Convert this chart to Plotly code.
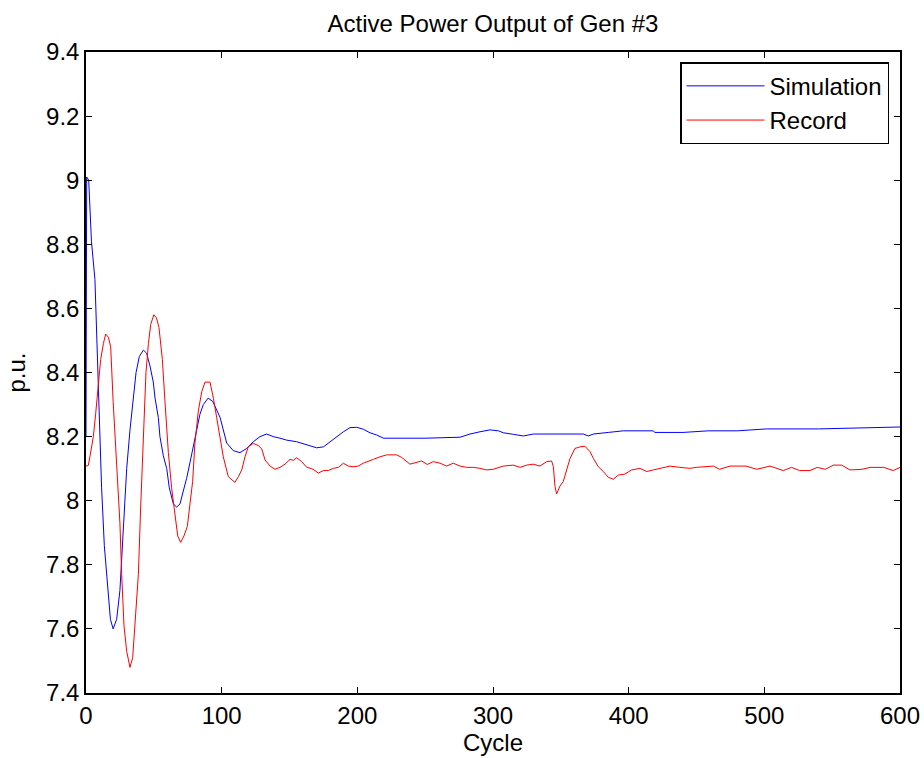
import plotly.graph_objects as go

# Simulation (blue)
sim_cycle = [0, 0.5, 2, 4, 6.6, 8, 9.6, 11.5, 13.5, 16.5, 18, 20, 22.6, 25, 27.5, 30, 32.4, 34.9,
             36.9, 39.3, 42.3, 44.7, 47.2, 49.6, 50.9, 53.3, 54.5, 57, 59.5, 61.4, 64.4, 66.8,
             69.3, 71.7, 74.2, 76.7, 79, 81.6, 84, 86.5, 90, 93.4, 96.3, 98.8, 103.7, 108.6,
             113.5, 118.4, 123.3, 128.3, 133.2, 138, 143, 147.9, 155.3, 162.7, 170, 175,
             179.9, 184.8, 189.7, 194.6, 199.5, 204.4, 209.3, 214.3, 219.2, 230, 250, 275.7,
             283, 290.4, 297.8, 304, 307.6, 315, 322.4, 329.7, 345, 366.6, 370.2, 374, 385,
             396, 418, 419.4, 440, 458.7, 480, 501.8, 540, 587.8, 600]
sim_pu = [8.20, 9.01, 9.00, 8.81, 8.69, 8.52, 8.26, 8.04, 7.86, 7.72, 7.63, 7.60, 7.63, 7.72, 7.93,
          8.10, 8.22, 8.33, 8.40, 8.45, 8.47, 8.46, 8.42, 8.37, 8.32, 8.26, 8.20, 8.14, 8.10,
          8.04, 7.99, 7.98, 7.99, 8.03, 8.07, 8.12, 8.17, 8.22, 8.27, 8.30, 8.32, 8.31, 8.28,
          8.26, 8.18, 8.156, 8.150, 8.163, 8.184, 8.200, 8.208, 8.200, 8.195, 8.189, 8.184,
          8.174, 8.165, 8.168, 8.184, 8.200, 8.215, 8.228, 8.229, 8.223, 8.212, 8.205, 8.195,
          8.195, 8.195, 8.198, 8.208, 8.215, 8.221, 8.218, 8.212, 8.207, 8.202, 8.208, 8.208,
          8.208, 8.202, 8.208, 8.213, 8.218, 8.218, 8.213, 8.213, 8.218, 8.218, 8.224, 8.224,
          8.229, 8.23]

# Record (red)
rec_cycle = [0, 1.7, 3, 5.4, 7.1, 9, 10.8, 12.8, 14.5, 16.5, 18.2, 20, 22.6, 25, 26.3, 28, 30,
             32.4, 34.4, 36, 38.6, 40.3, 42.3, 44.2, 46, 47.7, 50, 52, 53.8, 56.3, 58.2, 60.7,
             63.1, 65.6, 67.6, 69.8, 72.2, 74.7, 76.7, 78.6, 80.3, 82.8, 85.3, 87.7, 91.4, 93.9,
             96.3, 98.8, 101.2, 104.9, 109.8, 112.3, 114.8, 117.2, 119.6, 123.3, 127, 129.5,
             132, 135.7, 139.3, 143, 146.7, 150.4, 152.8, 155.3, 159, 162.7, 166.4, 168.8,
             171.2, 175, 178.6, 182.3, 186, 189.7, 193.3, 197, 200.7, 204.4, 208, 211.8, 216.7,
             221.6, 229, 232.7, 238.8, 243, 247.4, 251.6, 256, 261, 265.8, 270.7, 275.7, 280.6,
             285.5, 290.4, 295.3, 300.2, 307.6, 315, 320, 324.8, 329.7, 334.6, 339.6, 343.2,
             344.5, 345.7, 346.9, 349.4, 351.8, 354.3, 356.8, 360.4, 364.1, 367.8, 371.5, 374,
             377.6, 381.3, 385, 388.7, 392.3, 397.2, 402.2, 408.3, 413.3, 418.2, 423.1, 430.5,
             437.8, 445, 450, 462.4, 467, 474.7, 486.5, 494.3, 504.2, 514, 520, 526, 533.7, 539,
             545, 550.9, 557, 563.1, 572, 578, 588, 595, 600]
rec_pu = [8.108, 8.11, 8.14, 8.20, 8.27, 8.35, 8.44, 8.49, 8.52, 8.51, 8.48, 8.31, 8.09, 7.93,
          7.77, 7.61, 7.53, 7.48, 7.51, 7.61, 7.77, 7.98, 8.20, 8.40, 8.49, 8.55, 8.58, 8.57,
          8.54, 8.44, 8.31, 8.15, 8.04, 7.96, 7.89, 7.87, 7.89, 7.92, 7.99, 8.06, 8.18, 8.28,
          8.34, 8.37, 8.37, 8.32, 8.26, 8.20, 8.137, 8.075, 8.057, 8.075, 8.096, 8.137, 8.168,
          8.179, 8.172, 8.162, 8.127, 8.108, 8.098, 8.104, 8.114, 8.129, 8.126, 8.134, 8.122,
          8.104, 8.10, 8.094, 8.086, 8.094, 8.094, 8.101, 8.104, 8.117, 8.108, 8.106, 8.108,
          8.117, 8.122, 8.129, 8.137, 8.143, 8.143, 8.135, 8.114, 8.118, 8.124, 8.113, 8.122,
          8.117, 8.108, 8.117, 8.108, 8.104, 8.104, 8.101, 8.096, 8.098, 8.108, 8.111, 8.104,
          8.111, 8.114, 8.108, 8.122, 8.124, 8.106, 8.044, 8.021, 8.046, 8.06, 8.096, 8.132,
          8.163, 8.168, 8.170, 8.153, 8.132, 8.106, 8.091, 8.073, 8.067, 8.080, 8.083, 8.096,
          8.101, 8.091, 8.096, 8.101, 8.108, 8.104, 8.101, 8.104, 8.108, 8.098, 8.108, 8.108,
          8.098, 8.108, 8.094, 8.104, 8.094, 8.094, 8.104, 8.098, 8.111, 8.111, 8.096, 8.098,
          8.104, 8.104, 8.094, 8.104]

x_ticks = [0, 100, 200, 300, 400, 500, 600]
y_ticks = [7.4, 7.6, 7.8, 8.0, 8.2, 8.4, 8.6, 8.8, 9.0, 9.2, 9.4]
y_labels = ["7.4", "7.6", "7.8", "8", "8.2", "8.4", "8.6", "8.8", "9", "9.2", "9.4"]

FONT = "Liberation Sans, Arial, sans-serif"
FS = 24

fig = go.Figure()
fig.add_trace(go.Scatter(x=sim_cycle, y=sim_pu, mode="lines", name="Simulation",
                         line=dict(color="#0000FF", width=1)))
fig.add_trace(go.Scatter(x=rec_cycle, y=rec_pu, mode="lines", name="Record",
                         line=dict(color="#FF0000", width=1)))

axis_common = dict(showline=True, linecolor="black", linewidth=1.5, mirror="ticks",
                   ticks="inside", ticklen=6, tickcolor="black", showgrid=False,
                   zeroline=False, automargin=False,
                   tickfont=dict(family=FONT, size=FS, color="black"))

fig.update_layout(
    width=924, height=758,
    margin=dict(l=86, r=24, t=52, b=65),
    paper_bgcolor="white", plot_bgcolor="white",
    title=dict(text="Active Power Output of Gen #3", x=0.5, xanchor="center", xref="paper",
               y=0.969, yanchor="middle", font=dict(family=FONT, size=FS, color="black")),
    xaxis=dict(range=[0, 600], tickvals=x_ticks, ticktext=[str(v) for v in x_ticks],
               title=dict(text="Cycle", font=dict(family=FONT, size=FS, color="black"),
                          standoff=0),
               **axis_common),
    yaxis=dict(range=[7.4, 9.4], tickvals=y_ticks, ticktext=y_labels,
               title=dict(text="p.u.", font=dict(family=FONT, size=FS, color="black"),
                          standoff=14),
               **axis_common),
    legend=dict(x=0.9865, y=0.984, xanchor="right", yanchor="top",
                bordercolor="black", borderwidth=1.5, bgcolor="white",
                font=dict(family=FONT, size=FS, color="black"),
                itemwidth=78),
    showlegend=True,
)

fig.write_html("out.html")
